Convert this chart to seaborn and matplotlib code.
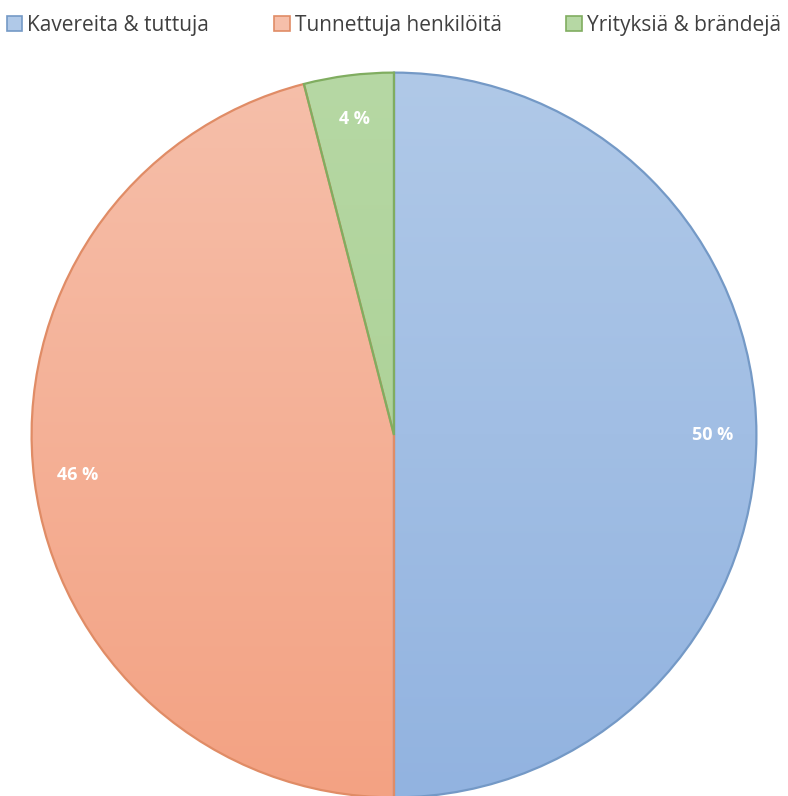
import matplotlib
matplotlib.use("Agg")
import matplotlib.pyplot as plt
import numpy as np
import seaborn as sns
from matplotlib.colors import LinearSegmentedColormap

# Data
categories = ['Kavereita & tuttuja', 'Tunnettuja henkilöitä', 'Yrityksiä & brändejä']
shares = [50, 46, 4]
top_colors = ['#b0c9e8', '#f6bfaa', '#b6d8a4']
bottom_colors = ['#92b3e0', '#f3a283', '#a6cd8e']
edge_colors = ['#7499c6', '#e08c66', '#80ad60']

sns.set_theme(style="white")
plt.rcParams['font.family'] = ['Open Sans', 'DejaVu Sans']

fig = plt.figure(figsize=(7.88, 7.96), dpi=100)
ax = fig.add_axes([0.0355, -0.0065, 0.929, 0.92])

wedges, texts, autotexts = ax.pie(
    shares,
    colors=top_colors,
    startangle=90,
    counterclock=False,
    autopct=lambda p: f'{p:.0f} %',
    pctdistance=0.88,
    wedgeprops=dict(linewidth=1.6),
    textprops=dict(color='white', fontsize=13, fontweight='bold', zorder=5),
)

# vertical gradient fill, clipped to each wedge
grad = np.linspace(0, 1, 256).reshape(-1, 1)
for w, tc, bc, ec in zip(wedges, top_colors, bottom_colors, edge_colors):
    cmap = LinearSegmentedColormap.from_list('g', [tc, bc])
    im = ax.imshow(grad, cmap=cmap, extent=(-1, 1, -1, 1), origin='upper',
                   aspect='auto', zorder=w.get_zorder() + 0.1)
    im.set_clip_path(w)
    w.set_edgecolor(ec)
    w.set_zorder(w.get_zorder() + 0.2)
    w.set_facecolor('none')

ax.set_aspect('equal')
ax.set_xlim(-1.01, 1.01)
ax.set_ylim(-1.01, 1.01)
ax.axis('off')

handles = [plt.Rectangle((0, 0), 1, 1, facecolor=c, edgecolor=e, linewidth=1.2)
           for c, e in zip(top_colors, edge_colors)]
fig.legend(handles, categories, loc='upper center', bbox_to_anchor=(0.5, 1.005),
           ncol=3, frameon=False, fontsize=15, handlelength=0.75, handleheight=0.75,
           handletextpad=0.25, columnspacing=3.1, labelcolor='#404040')

fig.savefig('out.png', dpi=100)
